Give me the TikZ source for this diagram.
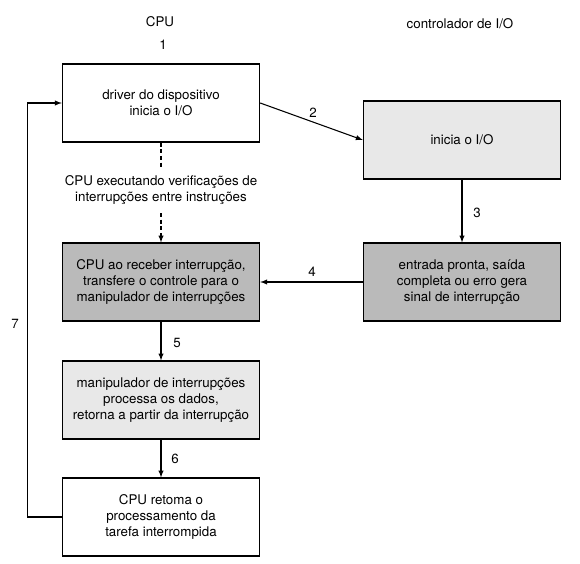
\documentclass[tikz,border=0pt]{standalone}
\usepackage{fontspec}
\setmainfont{TeX Gyre Heros}
\usepackage{xcolor}
\usepackage{tikz}
\definecolor{claro}{gray}{0.91}
\definecolor{escuro}{gray}{0.73}

\begin{document}
\begin{tikzpicture}[x=0.75pt,y=-0.75pt,line width=0.8pt,>=latex,font=\fontsize{10}{12}\selectfont,
    caixa/.style={draw,align=center,minimum width=148pt,minimum height=58.5pt,inner sep=2pt},
    rotulo/.style={inner sep=1pt}]
    \useasboundingbox (0,0) rectangle (580,563);
    \node[caixa] (driver) at (161,103) {driver do dispositivo\\inicia o I/O};
    \node[caixa,fill=claro] (inicia) at (462,140) {inicia o I/O};
    \node[caixa,fill=escuro] (recebe) at (161,282) {CPU ao receber interrupção,\\transfere o controle para o\\manipulador de interrupções};
    \node[caixa,fill=escuro] (pronta) at (462,282) {entrada pronta, saída\\completa ou erro gera\\sinal de interrupção};
    \node[caixa,fill=claro] (manip) at (161,400) {manipulador de interrupções\\processa os dados,\\retorna a partir da interrupção};
    \node[caixa] (retoma) at (161,517) {CPU retoma o\\processamento da\\tarefa interrompida};
    \node[align=center,inner xsep=2pt,inner ysep=6pt] (verif) at (161,190) {CPU executando verificações de\\interrupções entre instruções};
    \node[rotulo] (cpu) at (160,22) {CPU};
    \node[rotulo] (ctrl) at (460,24) {controlador de I/O};
    \node[rotulo] (n1) at (163,45) {1};
    \node[rotulo] (n2) at (313,113) {2};
    \node[rotulo] (n3) at (477,213) {3};
    \node[rotulo] (n4) at (312,272) {4};
    \node[rotulo] (n5) at (177,343) {5};
    \node[rotulo] (n6) at (175,459) {6};
    \node[rotulo] (n7) at (15,324) {7};
    \draw[->] (driver.east) -- (inicia.west);
    \draw[->] (inicia.south) -- (pronta.north);
    \draw[->] (pronta.west) -- (recebe.east);
    \draw[->] (recebe.south) -- (manip.north);
    \draw[->] (manip.south) -- (retoma.north);
    \draw[dash pattern=on 3pt off 2pt] (driver.south) -- (verif.north);
    \draw[->,dash pattern=on 3pt off 2pt] (verif.south) -- (recebe.north);
    \draw[->] (retoma.west) -- ++(-34,0) |- (driver.west);
\end{tikzpicture}
\end{document}
